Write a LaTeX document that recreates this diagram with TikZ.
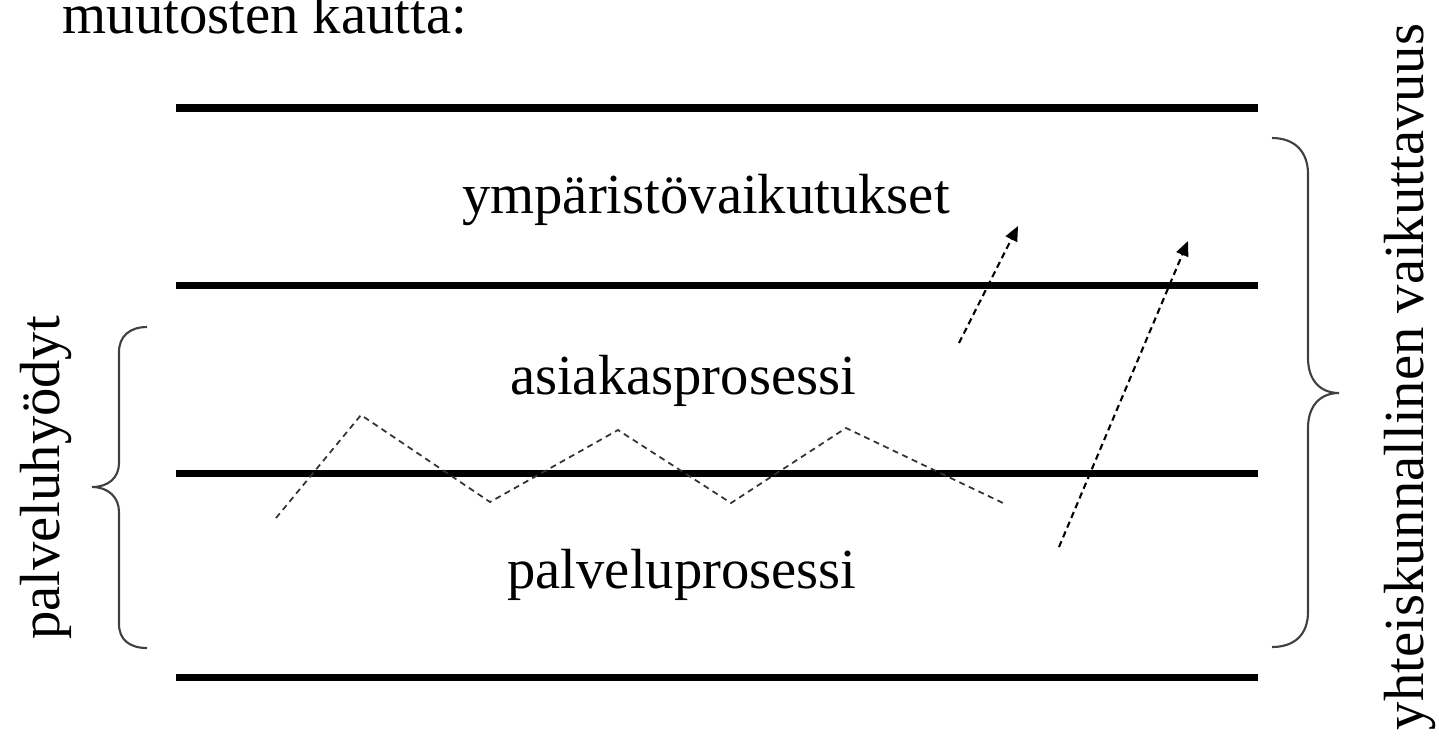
\documentclass[tikz,border=0pt]{standalone}
\usepackage{fontspec}
\setmainfont{Liberation Serif}
\usetikzlibrary{arrows.meta}
\begin{document}
\begin{tikzpicture}[x={(0.01cm,0)},y={(0,-0.01cm)},
  lbl/.style={inner sep=0pt,anchor=base,font=\fontsize{16.1}{19}\selectfont},
  layerline/.style={line width=2pt,line cap=butt},
  bracepath/.style={line width=0.6pt,draw=black!75},
  flowarrow/.style={line width=0.6pt,dash pattern=on 1.8pt off 1.2pt,-{Triangle[length=4.2pt,width=3.6pt]}},
  zigzag/.style={line width=0.5pt,draw=black!80,dash pattern=on 1.7pt off 1.3pt}]
\useasboundingbox (0,0) rectangle (1439,735);
% top text (cut off)
\node[lbl,anchor=base west] (title) at (62,33) {muutosten kautta:};
% layer lines
\coordinate (l1a) at (176,108); \coordinate (l1b) at (1258,108);
\coordinate (l2a) at (176,285); \coordinate (l2b) at (1258,285);
\coordinate (l3a) at (176,473); \coordinate (l3b) at (1258,473);
\coordinate (l4a) at (176,677); \coordinate (l4b) at (1258,677);
\draw[layerline] (l1a) -- (l1b);
\draw[layerline] (l2a) -- (l2b);
\draw[layerline] (l3a) -- (l3b);
\draw[layerline] (l4a) -- (l4b);
% layer labels
\node[lbl] (ymp) at (706,213) {ympäristövaikutukset};
\node[lbl] (asi) at (683,394) {asiakasprosessi};
\node[lbl] (pal) at (682,588) {palveluprosessi};
% zigzag
\coordinate (z0) at (276,518);
\coordinate (z1) at (361,415);
\coordinate (z2) at (490,502);
\coordinate (z3) at (618,430);
\coordinate (z4) at (731,503);
\coordinate (z5) at (846,428);
\coordinate (z6) at (1003,503);
\draw[zigzag] (z0) -- (z1) -- (z2) -- (z3) -- (z4) -- (z5) -- (z6);
% arrows
\coordinate (a1s) at (959,343); \coordinate (a1e) at (1018,226);
\coordinate (a2s) at (1059,547); \coordinate (a2e) at (1188,241);
\draw[flowarrow] (a1s) -- (a1e);
\draw[flowarrow] (a2s) -- (a2e);
% right brace
\draw[bracepath] (1272,138) .. controls (1295,138) and (1308,152) .. (1308,174)
  -- (1308,358) .. controls (1308,380) and (1320,393) .. (1339,393)
  .. controls (1320,393) and (1308,406) .. (1308,428)
  -- (1308,612) .. controls (1308,634) and (1295,647) .. (1272,647);
% left brace
\draw[bracepath] (147,327) .. controls (130,327) and (119,336) .. (119,352)
  -- (119,463) .. controls (119,478) and (108,487) .. (92,487)
  .. controls (108,487) and (119,497) .. (119,512)
  -- (119,624) .. controls (119,640) and (130,648) .. (147,648);
% side labels
\node[lbl,rotate=90] (left) at (60,478) {palveluhyödyt};
\node[lbl,rotate=90] (right) at (1423,377) {yhteiskunnallinen vaikuttavuus};
\end{tikzpicture}
\end{document}
